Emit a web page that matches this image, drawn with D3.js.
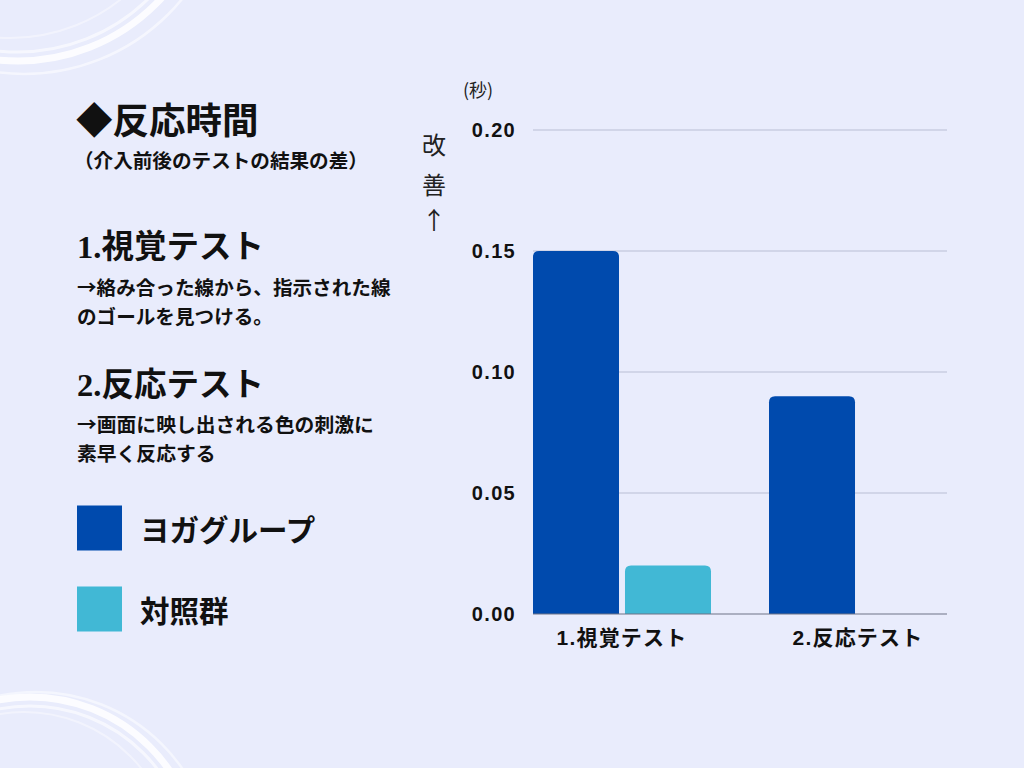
<!DOCTYPE html>
<html><head><meta charset="utf-8">
<script src="https://cdn.jsdelivr.net/npm/d3@7"></script>
<style>
html,body{margin:0;padding:0;background:#e9ecfc;}
svg{display:block;}
</style></head>
<body>
<svg id="c" width="1024" height="768"></svg>
<script>
const categories = ["1.視覚テスト", "2.反応テスト"];
const seriesNames = ["ヨガグループ", "対照群"];
const yogaValues = [0.15, 0.09];
const controlValues = [0.02, 0];
const yTicks = [0, 0.05, 0.10, 0.15, 0.20];
const colors = ["#004aad", "#41b8d5"];

const svg = d3.select("#c");
const W = 1024, H = 768;
svg.append("rect").attr("width", W).attr("height", H).attr("fill", "#e9ecfc");

// decorative brush arcs
const deco = svg.append("g").attr("fill", "none").attr("stroke", "#ffffff");
[[18,-134,195,7,0.85],[18,-134,186,3,0.6],[24,-130,204,2.5,0.55],[10,-140,178,2,0.4]].forEach(a=>{
  deco.append("circle").attr("cx",a[0]).attr("cy",a[1]).attr("r",a[2]).attr("stroke-width",a[3]).attr("stroke-opacity",a[4]);
});
[[30,866,169,7,0.85],[30,866,160,3,0.6],[36,870,178,2.5,0.5],[24,862,150,2,0.4]].forEach(a=>{
  deco.append("circle").attr("cx",a[0]).attr("cy",a[1]).attr("r",a[2]).attr("stroke-width",a[3]).attr("stroke-opacity",a[4]);
});

const jp = "'Noto Sans CJK JP', sans-serif";
const jpSerif = "'Liberation Serif', 'Noto Sans CJK JP', serif";
const num = "'Liberation Sans', Arial, 'Noto Sans CJK JP', sans-serif";

// left text
function txt(x, y, s, size, weight, fam) {
  return svg.append("text").attr("x", x).attr("y", y).attr("font-size", size)
    .attr("font-weight", weight).attr("font-family", fam || jp).attr("fill", "#111")
    .attr("dominant-baseline", "central").text(s);
}
txt(76, 118, "◆反応時間", 36.5, 700);
txt(74, 159, "（介入前後のテストの結果の差）", 19.6, 700);
txt(77, 247, "1.視覚テスト", 32.5, 700, jpSerif);
txt(77, 286, "→絡み合った線から、指示された線", 19.6, 700);
txt(77, 315, "のゴールを見つける。", 19.6, 700);
txt(77, 385, "2.反応テスト", 32.5, 700, jpSerif);
txt(77, 423, "→画面に映し出される色の刺激に", 19.8, 700);
txt(77, 452, "素早く反応する", 19.8, 700);

// legend
const legY = [528, 609];
seriesNames.forEach((n, i) => {
  svg.append("rect").attr("x", 77).attr("y", legY[i] - 22.5).attr("width", 45).attr("height", 45).attr("fill", colors[i]);
  txt(140, legY[i], n, 29.5, 700);
});

// chart
const plotL = 533, plotR = 947;
const y = d3.scaleLinear().domain([0, 0.2]).range([614, 130]);
const x0 = d3.scaleBand().domain(categories).range([plotL, plotR]).paddingInner(0.2458).paddingOuter(0);
const x1 = d3.scaleBand().domain(seriesNames).range([0, x0.bandwidth()]).paddingInner(0.065).paddingOuter(0);

// grid
svg.append("g").selectAll("line").data(yTicks.filter(t => t > 0)).join("line")
  .attr("x1", plotL).attr("x2", plotR).attr("y1", d => y(d)).attr("y2", d => y(d))
  .attr("stroke", "#b9bed3").attr("stroke-width", 1.2);

// y axis labels
const yAxis = d3.axisLeft(y).tickValues(yTicks).tickFormat(d3.format(".2f")).tickSize(0).tickPadding(0);
const ya = svg.append("g").attr("transform", `translate(516,0)`).call(yAxis);
ya.select(".domain").remove();
ya.selectAll("text").attr("font-family", num).attr("font-size", 20).attr("font-weight", 700)
  .attr("letter-spacing", 1.3).attr("fill", "#111");

const data = categories.map((c, i) => ({cat: c, vals: [yogaValues[i], controlValues[i]]}));

function barPath(x, w, yTop, yBot, r) {
  const h = yBot - yTop;
  if (h <= 0) return "";
  r = Math.min(r, h, w / 2);
  return `M${x},${yBot}V${yTop + r}Q${x},${yTop} ${x + r},${yTop}H${x + w - r}Q${x + w},${yTop} ${x + w},${yTop + r}V${yBot}Z`;
}

const g = svg.append("g");
data.forEach(d => {
  d.vals.forEach((v, j) => {
    g.append("path")
      .attr("d", barPath(x0(d.cat) + x1(seriesNames[j]), x1.bandwidth(), y(v), y(0), 6))
      .attr("fill", colors[j]);
  });
});

// baseline
svg.append("line").attr("x1", plotL).attr("x2", plotR).attr("y1", y(0)).attr("y2", y(0))
  .attr("stroke", "#6f7386").attr("stroke-width", 1.2);

// x axis labels
const xAxis = d3.axisBottom(x0).tickSize(0).tickPadding(0);
const xa = svg.append("g").attr("transform", `translate(0,637)`).call(xAxis);
xa.select(".domain").remove();
xa.selectAll("text").attr("font-family", num).attr("font-size", 21).attr("font-weight", 700)
  .attr("letter-spacing", 1.2).attr("fill", "#111").attr("dy", "0").attr("dominant-baseline", "central");

// axis titles
svg.append("text").attr("x", 463).attr("y", 89).attr("font-family", jp).attr("font-size", 18)
  .attr("fill", "#222").attr("dominant-baseline", "central").text("(秒)");
["改", "善", "↑"].forEach((s, i) => {
  svg.append("text").attr("x", 434).attr("y", [143, 183, 218][i]).attr("text-anchor", "middle")
    .attr("font-family", jp).attr("font-size", 24).attr("fill", "#222")
    .attr("dominant-baseline", "central").text(s);
});
</script>
</body></html>
